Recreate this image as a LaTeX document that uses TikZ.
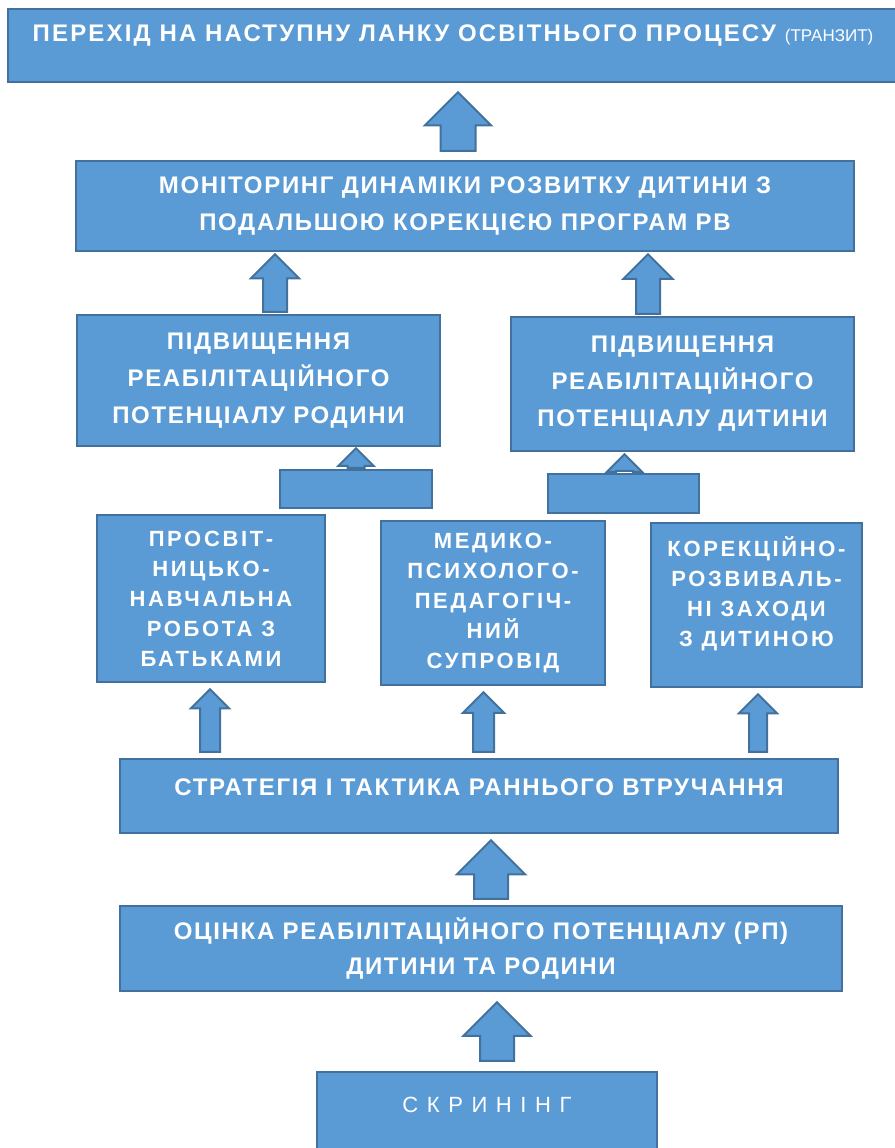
\documentclass[tikz,border=0pt]{standalone}
\usepackage{fontspec}
\setmainfont{Liberation Sans}
\newfontfamily\boxfont{Liberation Sans}[LetterSpace=7]
\newfontfamily\topfont{Liberation Sans}[LetterSpace=9]
\newfontfamily\smallboxfont{Liberation Sans}[LetterSpace=12]
\newfontfamily\screenfont{Liberation Sans}[LetterSpace=39]
\usepackage{tikz}
\usetikzlibrary{calc}

\definecolor{boxfill}{HTML}{5B9BD5}
\definecolor{boxline}{HTML}{41719C}

\tikzset{
    stage/.style={draw=boxline, fill=boxfill, line width=2.5pt, text=white, align=center, inner sep=0pt,
        font=\boxfont\bfseries\fontsize{24}{37}\selectfont},
    substage/.style={stage, font=\smallboxfont\bfseries\fontsize{22}{30}\selectfont},
    arrowbox/.style={draw=boxline, fill=boxfill, line width=2pt, line join=miter}
}

% block arrow: lower node, upper node, x, half shaft, half head, gap
\newcommand{\blockup}[6]{%
    \draw[arrowbox] let \p1=(#3,0 |- #1.north), \p2=(#3,0 |- #2.south) in
        (\x1-#4,\y1+#6) -- (\x1-#4,\y2-#6-#5) -- (\x1-#5,\y2-#6-#5) -- (\x1,\y2-#6)
        -- (\x1+#5,\y2-#6-#5) -- (\x1+#4,\y2-#6-#5) -- (\x1+#4,\y1+#6) -- cycle;}

\begin{document}
\begin{tikzpicture}[x=1pt, y=-1pt]
    \useasboundingbox (0,0) rectangle (894,1148);

    \node[stage, minimum width=890, minimum height=73, font=\topfont\bfseries\fontsize{24}{37}\selectfont] (trans) at (453,45.5)
        {ПЕРЕХІД НА НАСТУПНУ ЛАНКУ ОСВІТНЬОГО ПРОЦЕСУ {\normalfont\fontsize{17}{20}\selectfont(ТРАНЗИТ)}\\[-12pt]~};
    \node[stage, minimum width=778, minimum height=90] (mon) at (465,206)
        {МОНІТОРИНГ ДИНАМІКИ РОЗВИТКУ ДИТИНИ З\\ПОДАЛЬШОЮ КОРЕКЦІЄЮ ПРОГРАМ РВ};

    \node[stage, minimum width=363, minimum height=131] (famp) at (258.5,380.5)
        {ПІДВИЩЕННЯ\\РЕАБІЛІТАЦІЙНОГО\\ПОТЕНЦІАЛУ РОДИНИ};
    \node[stage, minimum width=343, minimum height=134] (chp) at (682.5,384)
        {ПІДВИЩЕННЯ\\РЕАБІЛІТАЦІЙНОГО\\ПОТЕНЦІАЛУ ДИТИНИ};
    \node[stage, minimum width=152, minimum height=38] (fampbase) at (356,489) {};
    \node[stage, minimum width=151, minimum height=39] (chpbase) at (623.5,493.5) {};

    \node[substage, minimum width=228, minimum height=167] (edu) at (211,598.5)
        {ПРОСВІТ-\\НИЦЬКО-\\НАВЧАЛЬНА\\РОБОТА З\\БАТЬКАМИ};
    \node[substage, minimum width=224, minimum height=164] (med) at (493,603)
        {МЕДИКО-\\ПСИХОЛОГО-\\ПЕДАГОГІЧ-\\НИЙ\\СУПРОВІД};
    \node[substage, minimum width=211, minimum height=164] (cor) at (756.5,605)
        {КОРЕКЦІЙНО-\\РОЗВИВАЛЬ-\\НІ ЗАХОДИ\\З ДИТИНОЮ\\[-4pt]~};

    \node[stage, minimum width=718, minimum height=74] (str) at (479,796)
        {СТРАТЕГІЯ І ТАКТИКА РАННЬОГО ВТРУЧАННЯ\\[-19pt]~};
    \node[stage, minimum width=722, minimum height=85] (est) at (481,948.5)
        {ОЦІНКА РЕАБІЛІТАЦІЙНОГО ПОТЕНЦІАЛУ (РП)\\[-2pt]ДИТИНИ ТА РОДИНИ};
    \node[stage, minimum width=340, minimum height=88, font=\screenfont\fontsize{22}{36}\selectfont] (scr) at (487,1116)
        {СКРИНІНГ\\[-14pt]~};

    \blockup{mon}{trans}{458}{17.5}{33}{9}
    \blockup{famp}{mon}{275}{12}{24}{2}
    \blockup{chp}{mon}{648}{12}{24.5}{2}
    \blockup{fampbase}{famp}{356}{8.5}{17.5}{1}
    \blockup{chpbase}{chp}{624.5}{8.5}{17.5}{2}
    \blockup{str}{edu}{210}{10}{19}{6}
    \blockup{str}{med}{483.5}{10.5}{20.5}{6}
    \blockup{str}{cor}{758}{9}{19}{6}
    \blockup{est}{str}{491}{17}{34}{6}
    \blockup{scr}{est}{497}{17}{33.5}{10}
\end{tikzpicture}
\end{document}
